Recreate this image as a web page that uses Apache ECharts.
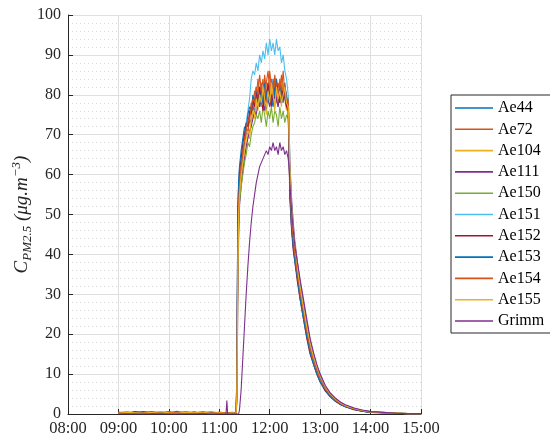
<!DOCTYPE html>
<html>
<head>
<meta charset="utf-8">
<script src="https://cdn.jsdelivr.net/npm/echarts@6/dist/echarts.min.js"></script>
<style>
  html, body { margin: 0; padding: 0; background: #fff; }
  #main { width: 550px; height: 443px; }
</style>
</head>
<body>
<div id="main"></div>
<script>
// sample times, minutes after midnight
var times = [540, 550, 560, 570, 580, 590, 600, 610, 620, 630, 640, 650, 660, 668, 669, 670, 675, 680,
  681, 682, 683, 684,
  686, 688, 690, 692, 694, 696, 698, 700, 702, 704, 706, 708, 710, 712, 714, 716, 718, 720, 722, 724, 726, 728, 730, 732, 734, 736, 738, 740, 742,
  743, 744, 746, 748, 750, 753, 756, 760, 764, 768, 772, 776, 780, 786, 792, 798, 804, 810, 820, 830, 840, 855, 870, 885, 900]

var ae44 = [0.4, 0.2, 0.6, 0.3, 0.2, 0.5, 0.3, 0.7, 0.2, 0.4, 0.3, 0.5, 0.3, 0.2, 0.3, 0.2, 0.4, 0.3,
  10, 48, 55, 57,
  61, 64, 68, 70, 71, 74, 73, 77, 76, 80, 78, 81, 77, 82, 79, 76, 83, 80, 78, 84, 79, 81, 77, 83, 80, 78, 82, 79, 77,
  66, 56, 47, 42, 39, 34, 30, 25, 20, 16, 14, 11, 9, 6.2, 4.6, 3.4, 2.5, 1.9, 1.2, 0.7, 0.5, 0.3, 0.2, 0.1, 0.1]
var ae72 = [0.3, 0.5, 0.2, 0.4, 0.6, 0.2, 0.5, 0.3, 0.4, 0.2, 0.6, 0.3, 0.4, 0.3, 0.2, 0.4, 0.3, 0.2,
  6, 40, 52, 58,
  63, 66, 69, 72, 70, 75, 78, 76, 81, 79, 84, 80, 83, 78, 85, 81, 79, 86, 82, 80, 84, 78, 83, 81, 85, 79, 82, 80, 78,
  70, 58, 49, 44, 40, 35, 31, 26, 21, 17, 13.5, 11, 8.5, 6.5, 4.8, 3.5, 2.6, 2.0, 1.3, 0.8, 0.5, 0.3, 0.2, 0.1, 0.1]
var ae104 = [0.2, 0.4, 0.3, 0.5, 0.2, 0.4, 0.6, 0.2, 0.3, 0.5, 0.2, 0.4, 0.3, 0.2, 0.4, 0.3, 0.2, 0.3,
  4, 30, 46, 54,
  58, 62, 65, 67, 70, 69, 73, 75, 74, 78, 76, 80, 77, 81, 78, 75, 80, 77, 82, 79, 76, 81, 78, 80, 77, 83, 79, 76, 78,
  71, 60, 51, 45, 41, 36, 32, 27, 22, 17.5, 14, 11.5, 9.5, 6.8, 5, 3.7, 2.8, 2.1, 1.4, 0.9, 0.6, 0.3, 0.2, 0.1, 0.1]
var ae111 = [0.3, 0.2, 0.4, 0.2, 0.5, 0.3, 0.2, 0.4, 0.3, 0.2, 0.4, 0.2, 0.3, 0.2, 0.3, 0.2, 0.3, 0.2,
  3, 28, 44, 52,
  57, 61, 64, 67, 69, 71, 72, 74, 76, 75, 78, 77, 80, 78, 76, 81, 79, 77, 80, 78, 82, 79, 77, 80, 78, 81, 79, 77, 79,
  73, 63, 54, 48, 43, 38, 33, 28, 23, 18.5, 15, 12, 10, 7, 5.2, 3.9, 2.9, 2.2, 1.5, 0.9, 0.6, 0.4, 0.2, 0.1, 0.1]
var ae150 = [0.4, 0.3, 0.2, 0.5, 0.3, 0.4, 0.2, 0.3, 0.5, 0.2, 0.3, 0.4, 0.2, 0.3, 0.2, 0.3, 0.2, 0.4,
  5, 36, 48, 53,
  57, 60, 63, 65, 68, 67, 70, 72, 73, 75, 74, 76, 73, 77, 75, 72, 76, 74, 77, 73, 76, 75, 72, 77, 74, 76, 73, 75, 74,
  68, 57, 48, 43, 39, 34, 30, 25, 20, 16, 13, 10.5, 8.5, 6, 4.5, 3.3, 2.5, 1.8, 1.2, 0.7, 0.4, 0.3, 0.2, 0.1, 0.1]
var ae151 = [0.3, 0.6, 0.2, 0.4, 0.3, 0.5, 0.2, 0.4, 0.6, 0.3, 0.2, 0.5, 0.3, 0.2, 0.4, 0.3, 0.2, 0.3,
  8, 44, 55, 60,
  64, 68, 71, 73, 76, 79, 84, 86, 85, 88, 86, 90, 88, 91, 89, 93, 90, 94, 91, 93, 90, 94, 91, 92, 88, 90, 86, 84, 80,
  74, 62, 52, 46, 42, 37, 32, 27, 22, 17, 14, 11, 9, 6.5, 4.8, 3.5, 2.6, 1.9, 1.3, 0.8, 0.5, 0.3, 0.2, 0.1, 0.1]
var ae152 = [0.2, 0.3, 0.5, 0.2, 0.4, 0.3, 0.5, 0.2, 0.3, 0.4, 0.2, 0.3, 0.2, 0.3, 0.2, 0.4, 0.3, 0.2,
  9, 50, 57, 61,
  64, 68, 70, 73, 72, 76, 75, 79, 77, 81, 78, 82, 79, 76, 81, 78, 83, 80, 77, 82, 79, 84, 80, 78, 82, 79, 81, 77, 76,
  64, 54, 46, 41, 38, 33, 29, 24, 19, 15, 12.5, 10, 8, 5.8, 4.3, 3.2, 2.4, 1.8, 1.1, 0.7, 0.4, 0.3, 0.2, 0.1, 0.1]
var ae153 = [0.3, 0.2, 0.4, 0.6, 0.2, 0.3, 0.4, 0.2, 0.5, 0.3, 0.4, 0.2, 0.3, 0.2, 0.3, 0.2, 0.3, 0.4,
  12, 52, 58, 62,
  66, 69, 72, 71, 75, 77, 76, 80, 78, 82, 79, 77, 81, 78, 83, 80, 78, 82, 79, 77, 81, 84, 79, 82, 78, 80, 83, 79, 77,
  67, 55, 47, 42, 38, 34, 29, 24, 19.5, 15.5, 12.5, 10, 8, 6, 4.4, 3.3, 2.4, 1.8, 1.2, 0.7, 0.4, 0.3, 0.2, 0.1, 0.1]
var ae154 = [0.4, 0.3, 0.2, 0.3, 0.5, 0.2, 0.4, 0.3, 0.2, 0.5, 0.3, 0.2, 0.4, 0.3, 0.2, 0.3, 0.2, 0.3,
  7, 42, 53, 57,
  62, 65, 68, 71, 74, 73, 77, 79, 78, 82, 80, 85, 81, 84, 79, 83, 86, 81, 84, 80, 85, 82, 79, 84, 81, 86, 80, 78, 79,
  69, 58, 49, 44, 40, 35, 31, 26, 21, 16.5, 13.5, 11, 8.8, 6.3, 4.7, 3.5, 2.6, 2, 1.3, 0.8, 0.5, 0.3, 0.2, 0.1, 0.1]
var ae155 = [0.2, 0.4, 0.3, 0.2, 0.4, 0.6, 0.3, 0.2, 0.4, 0.3, 0.5, 0.2, 0.3, 0.2, 0.4, 0.2, 0.3, 0.2,
  5, 34, 50, 55,
  60, 63, 66, 69, 71, 70, 74, 76, 75, 79, 77, 80, 78, 82, 79, 77, 81, 78, 83, 80, 77, 82, 79, 81, 78, 80, 82, 78, 77,
  72, 61, 52, 46, 42, 37, 32, 27, 22, 18, 14.5, 12, 9.8, 7, 5.1, 3.8, 2.8, 2.1, 1.4, 0.9, 0.5, 0.3, 0.2, 0.1, 0.1]
var grimm = [0, 0, 0, 0, 0, 0, 0, 0, 0, 0, 0, 0, 0, 0, 3.4, 0, 0, 0,
  0, 0, 0, 1,
  6, 14, 22, 30, 37, 43, 48, 52, 55, 58, 60, 62, 63, 64, 65, 66, 65, 67, 66, 68, 66, 67, 65, 68, 66, 67, 65, 66, 64,
  62, 58, 51, 46, 42, 38, 34, 29, 24, 19, 15.5, 12.5, 10, 7.2, 5.3, 4, 3, 2.3, 1.5, 1, 0.6, 0.4, 0.2, 0.1, 0.1]

var names = ['Ae44', 'Ae72', 'Ae104', 'Ae111', 'Ae150', 'Ae151', 'Ae152', 'Ae153', 'Ae154', 'Ae155', 'Grimm']
var values = [ae44, ae72, ae104, ae111, ae150, ae151, ae152, ae153, ae154, ae155, grimm]
var colors = ['#0072BD', '#D95319', '#EDB120', '#7E2F8E', '#77AC30', '#4DBEEE', '#A2142F', '#0072BD', '#D95319', '#EDB120', '#7E2F8E']

var serif = '"Liberation Serif", "Times New Roman", serif'
var ink = '#262626'

function hhmm (v) {
  var h = Math.floor(v / 60)
  var m = v % 60
  return (h < 10 ? '0' : '') + h + ':' + (m < 10 ? '0' : '') + m
}

var myChart = echarts.init(document.getElementById('main'))

var series = names.map(function (name, i) {
  return {
    name: name,
    type: 'line',
    data: times.map(function (t, k) { return [t, values[i][k]] }),
    showSymbol: false,
    symbol: 'none',
    lineStyle: { width: 1.1, color: colors[i] },
    itemStyle: { color: colors[i] }
  }
})

var option = {
  animation: false,
  backgroundColor: '#fff',
  grid: { left: 68, right: 129, top: 15, bottom: 29, outerBoundsMode: 'none' },
  legend: {
    data: names.map(function (n, i) { return { name: n, itemStyle: { color: colors[i] } } }),
    orient: 'vertical',
    left: 451,
    top: 95,
    padding: [4, 40, 3, 4],
    itemGap: 3.3,
    itemWidth: 38,
    itemHeight: 1.6,
    icon: 'rect',
    borderColor: ink,
    borderWidth: 1,
    textStyle: { fontFamily: serif, fontSize: 16, color: '#000', lineHeight: 18 }
  },
  xAxis: {
    type: 'value',
    min: 480,
    max: 900,
    interval: 60,
    axisLine: { lineStyle: { color: ink, width: 1 } },
    axisTick: { inside: true, length: 5, lineStyle: { color: ink } },
    axisLabel: { formatter: hhmm, fontFamily: serif, fontSize: 16.5, color: ink, margin: 6 },
    splitLine: { show: true, lineStyle: { color: '#dfdfdf', width: 1 } }
  },
  yAxis: {
    type: 'value',
    min: 0,
    max: 100,
    interval: 10,
    name: '{c|C}{sub|PM2.5}{c| (μg.m}{sup|−3}{c|)}',
    nameLocation: 'middle',
    nameRotate: 90,
    nameGap: 34,
    nameMoveOverlap: false,
    nameTextStyle: {
      rich: {
        c: { fontFamily: serif, fontStyle: 'italic', fontSize: 19, color: ink, lineHeight: 24 },
        sub: { fontFamily: serif, fontStyle: 'italic', fontSize: 13, color: ink, lineHeight: 13, verticalAlign: 'bottom' },
        sup: { fontFamily: serif, fontStyle: 'italic', fontSize: 13, color: ink, lineHeight: 13, verticalAlign: 'top' }
      }
    },
    axisLine: { show: true, lineStyle: { color: ink, width: 1 } },
    axisTick: { show: true, inside: true, length: 5, lineStyle: { color: ink } },
    axisLabel: { fontFamily: serif, fontSize: 16, color: ink, margin: 7 },
    splitLine: { show: true, lineStyle: { color: '#dfdfdf', width: 1 } },
    minorTick: { show: false, splitNumber: 5 },
    minorSplitLine: { show: true, lineStyle: { color: '#dadada', width: 1, type: [1, 3] } }
  },
  series: series
}

myChart.setOption(option)
</script>
</body>
</html>
